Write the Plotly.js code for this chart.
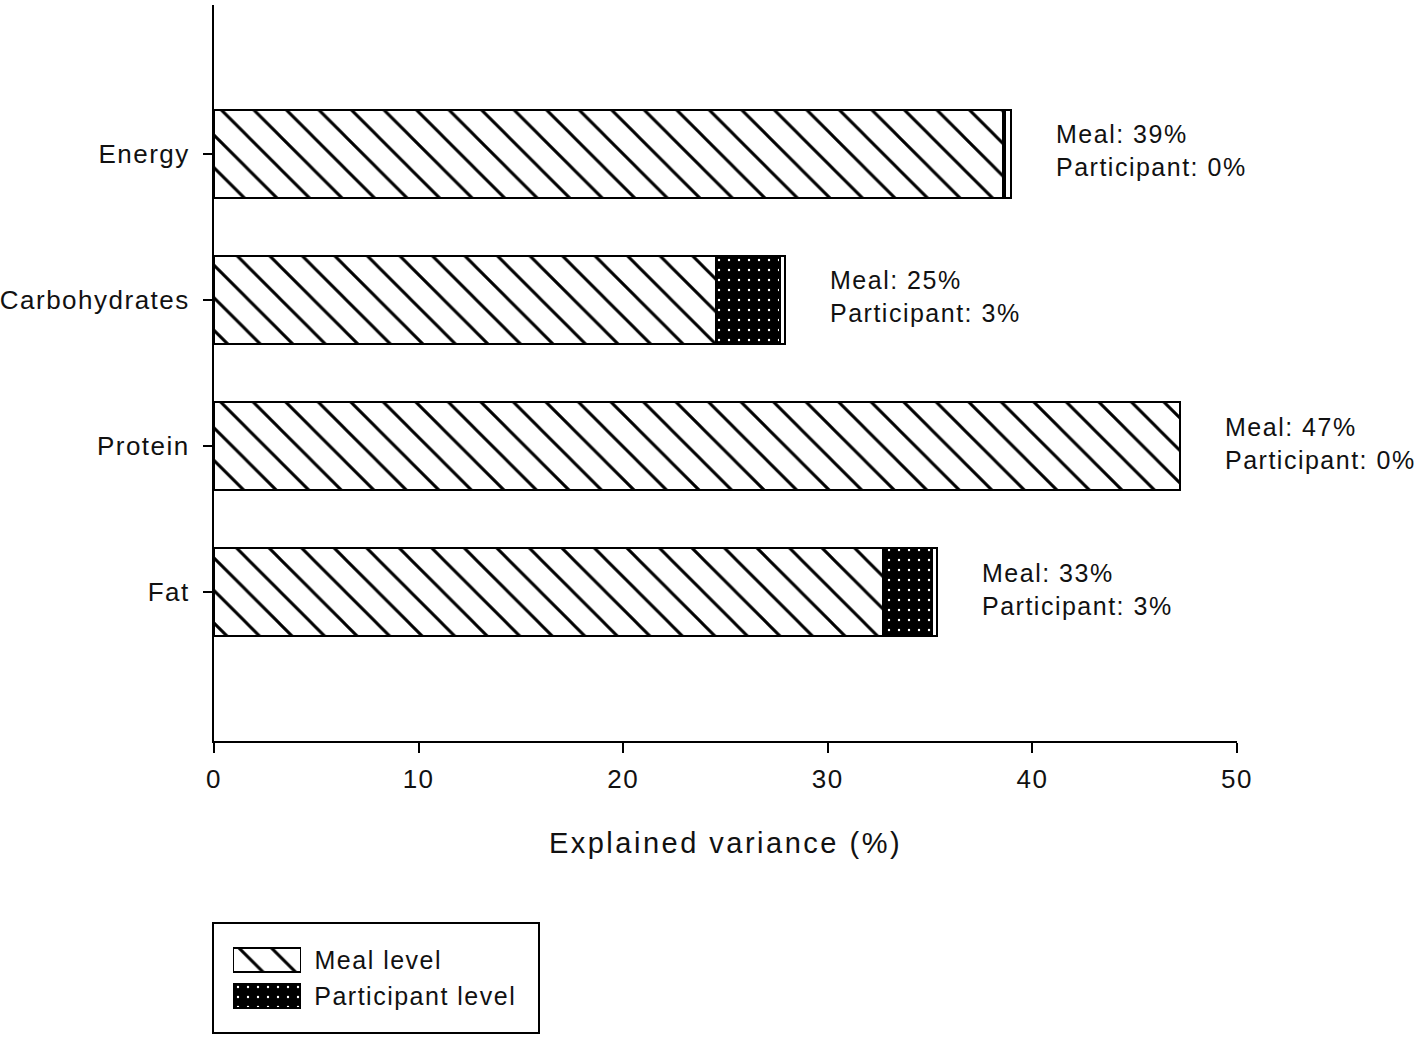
<!DOCTYPE html>
<html>
<head>
<meta charset="utf-8">
<script src="https://cdn.plot.ly/plotly-3.0.1.min.js"></script>
<style>
  html, body { margin: 0; padding: 0; background: #fff; }
  #chart { width: 1418px; height: 1037px; }
  .main-svg text { letter-spacing: 1.5px; }
  .main-svg text.xtitle { letter-spacing: 2.5px; }
</style>
</head>
<body>
<div id="chart"></div>
<script>
// ---- data ----
const categories = ['Energy', 'Carbohydrates', 'Protein', 'Fat'];
const mealLevel = [38.55, 24.55, 47.2, 32.7];
const participantLevel = [0.12, 3.1, 0, 2.4];
const otherLevel = [0.3, 0.25, 0, 0.25];
const mealLabel = [39, 25, 47, 33];
const participantLabel = [0, 3, 0, 3];
const xTicks = [0, 10, 20, 30, 40, 50];
const legendNames = ['Meal level', 'Participant level'];
const legendSwatch = [1];

const FONT = 'Liberation Sans, Arial, sans-serif';
const W = 1418, H = 1037;
const px = v => v / W;
const py = v => (H - v) / H;

const hatch = { shape: '\\', bgcolor: '#ffffff', fgcolor: '#000000', size: 23, solidity: 0.13, fillmode: 'replace' };
const dots = { shape: '.', bgcolor: '#000000', fgcolor: '#ffffff', size: 10, solidity: 0.045, fillmode: 'replace' };
const outline = { color: '#000000', width: 2 };

const traces = [
  { type: 'bar', orientation: 'h', name: 'Meal level', y: categories, x: mealLevel, width: 0.6,
    marker: { color: '#ffffff', pattern: hatch, line: outline }, showlegend: false, hoverinfo: 'x+y' },
  { type: 'bar', orientation: 'h', name: 'Participant level', y: categories, x: participantLevel, width: 0.6,
    marker: { color: '#000000', pattern: dots, line: outline }, showlegend: false, hoverinfo: 'x+y' },
  { type: 'bar', orientation: 'h', name: 'Other', y: categories, x: otherLevel, width: 0.6,
    marker: { color: '#ffffff', line: outline }, showlegend: false, hoverinfo: 'x+y' },
  // legend swatches
  { type: 'bar', orientation: 'h', xaxis: 'x2', yaxis: 'y2', y: [legendNames[0]], x: legendSwatch, width: 0.64,
    marker: { color: '#ffffff', pattern: hatch, line: outline }, showlegend: false, hoverinfo: 'skip' },
  { type: 'bar', orientation: 'h', xaxis: 'x2', yaxis: 'y2', y: [legendNames[1]], x: legendSwatch, width: 0.64,
    marker: { color: '#000000', pattern: dots, line: outline }, showlegend: false, hoverinfo: 'skip' }
];

const annotations = categories.map((c, i) => ({
  xref: 'x', yref: 'y',
  x: mealLevel[i] + participantLevel[i] + otherLevel[i], y: c,
  xanchor: 'left', yanchor: 'middle', align: 'left',
  xshift: 43, yshift: 3, showarrow: false,
  text: 'Meal: ' + mealLabel[i] + '%<br>Participant: ' + participantLabel[i] + '%',
  font: { family: FONT, size: 25, color: '#111111' }
}));
legendNames.forEach(n => annotations.push({
  xref: 'x2', yref: 'y2', x: 1, y: n, xanchor: 'left', yanchor: 'middle',
  xshift: 12 + 0.72 * n.length, showarrow: false, text: n,
  font: { family: FONT, size: 25, color: '#111111' }
}));

const layout = {
  width: W, height: H,
  margin: { l: 0, r: 0, t: 0, b: 0, pad: 0 },
  paper_bgcolor: '#ffffff', plot_bgcolor: '#ffffff',
  barmode: 'stack', bargap: 0.4,
  showlegend: false,
  font: { family: FONT, size: 26, color: '#111111' },
  xaxis: {
    domain: [px(214), px(1237)], range: [0, 50],
    tickmode: 'array', tickvals: xTicks, ticktext: xTicks.map(String),
    ticks: 'outside', ticklen: 10, tickwidth: 2, tickcolor: '#000',
    showline: true, linewidth: 2, linecolor: '#000',
    showgrid: false, zeroline: false, fixedrange: true,
    ticklabelstandoff: 4,
    tickfont: { family: FONT, size: 26, color: '#111111' },
    automargin: false,
    title: { text: 'Explained variance (%)', standoff: 39, font: { family: FONT, size: 29, color: '#111111' } }
  },
  yaxis: {
    domain: [py(741), py(5)], type: 'category',
    categoryorder: 'array', categoryarray: categories.slice().reverse(),
    range: [-1.02, 4.02],
    ticks: 'outside', ticklen: 9, tickwidth: 2, tickcolor: '#000',
    showline: true, linewidth: 2, linecolor: '#000',
    showgrid: false, zeroline: false, fixedrange: true,
    ticklabelstandoff: 8,
    tickfont: { family: FONT, size: 26, color: '#111111' },
    automargin: false
  },
  xaxis2: { domain: [px(233), px(301)], range: [0, 1], visible: false, anchor: 'y2', fixedrange: true },
  yaxis2: { domain: [py(1014), py(942)], range: [-0.5, 1.5], type: 'category',
    categoryorder: 'array', categoryarray: legendNames.slice().reverse(),
    visible: false, anchor: 'x2', fixedrange: true },
  shapes: [{
    type: 'rect', xref: 'paper', yref: 'paper',
    x0: px(213), x1: px(539), y0: py(1033), y1: py(923),
    line: { color: '#000', width: 2 }, fillcolor: 'rgba(0,0,0,0)'
  }],
  annotations: annotations
};

Plotly.newPlot('chart', traces, layout, { displayModeBar: false, staticPlot: true });
</script>
</body>
</html>
